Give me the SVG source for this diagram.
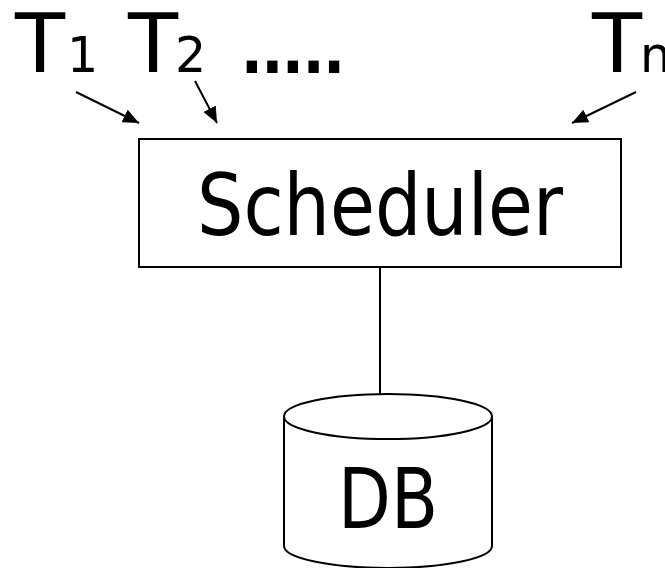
<svg xmlns="http://www.w3.org/2000/svg" width="665" height="568" viewBox="0 0 665 568">
<style>
text{font-family:"DejaVu Sans","Liberation Sans",sans-serif;fill:#000}
.big{font-size:82px}
.sub{font-size:49px}
.ln{stroke:#000;stroke-width:2;fill:none}
.shape{stroke:#000;stroke-width:2;fill:#fff}
</style>
<defs>
<marker id="arr" viewBox="0 0 16 14" refX="16" refY="7" markerWidth="16" markerHeight="14" markerUnits="userSpaceOnUse" orient="auto">
<path d="M0,0 L16,7 L0,14 z" fill="#000"/>
</marker>
</defs>
<g id="labels">
<text class="big" x="15" y="72">T<tspan class="sub" x="67">1</tspan></text>
<text class="big" x="128" y="72">T<tspan class="sub" x="175">2</tspan></text>
<text x="236" y="73" font-size="100" textLength="114" lengthAdjust="spacing">.....</text>
<text class="big" x="592" y="72">T<tspan class="sub" x="640">n</tspan></text>
</g>
<g id="scheduler">
<rect class="shape" x="139" y="139" width="482" height="128"/>
<text x="197" y="235" font-size="85" textLength="366" lengthAdjust="spacingAndGlyphs">Scheduler</text>
</g>
<g id="db">
<path class="shape" d="M284,416.5 L284,546 A104,22 0 0 0 492,546 L492,416.5"/>
<ellipse class="shape" cx="388" cy="416.5" rx="104" ry="22.5"/>
<text x="338" y="528" font-size="84" textLength="100" lengthAdjust="spacingAndGlyphs">DB</text>
</g>
<g id="connectors">
<line class="ln" x1="76" y1="92" x2="139" y2="123" marker-end="url(#arr)"/>
<line class="ln" x1="195" y1="81" x2="217" y2="123" marker-end="url(#arr)"/>
<line class="ln" x1="636" y1="92" x2="572" y2="123" marker-end="url(#arr)"/>
<line class="ln" x1="380" y1="267" x2="380" y2="394"/>
</g>
</svg>
